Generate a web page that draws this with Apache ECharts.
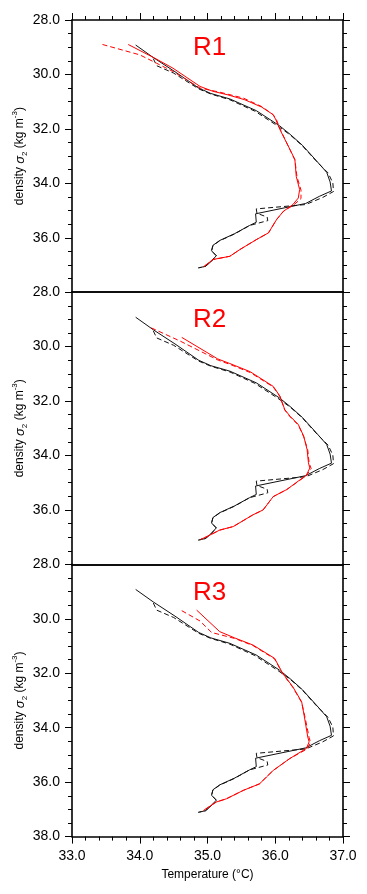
<!DOCTYPE html>
<html>
<head>
<meta charset="utf-8">
<script src="https://cdn.jsdelivr.net/npm/echarts@6/dist/echarts.min.js"></script>
<style>
html,body{margin:0;padding:0;background:#fff;}
#chart{width:367px;height:894px;}
</style>
</head>
<body>
<div id="chart"></div>
<script>
// ---- data: [temperature (°C), density sigma2 (kg m-3)] ----
const panelNames = ['R1', 'R2', 'R3'];
const xTickValues = [33, 34, 35, 36, 37];
const yTickValues = [28, 30, 32, 34, 36, 38];

const blackSolid = [
  [33.94,28.92],[34.20,29.38],[34.52,29.90],[34.87,30.50],[35.05,30.70],[35.33,30.90],
  [35.72,31.33],[36.06,31.88],[36.22,32.20],[36.40,32.60],[36.60,33.15],[36.76,33.60],
  [36.81,33.95],[36.83,34.28],[36.65,34.48],[36.45,34.74],[35.71,35.12],[35.72,35.43],
  [35.62,35.55],[35.40,35.85],[35.18,36.10],[35.08,36.28],[35.06,36.48],[35.13,36.66],
  [35.05,36.88],[34.97,37.05],[34.86,37.11]
];
const blackDashed = [
  [34.20,29.42],[34.25,29.68],[34.50,29.95],[34.87,30.53],[35.05,30.72],[35.33,30.93],
  [35.70,31.35],[36.04,31.90],[36.22,32.22],[36.40,32.62],[36.60,33.17],[36.78,33.62],
  [36.85,33.98],[36.86,34.30],[36.70,34.52],[36.45,34.78],[35.72,34.94],[35.73,35.10],
  [35.88,35.24],[35.89,35.37],[35.62,35.55],[35.40,35.86],[35.18,36.11],[35.08,36.29],
  [35.06,36.48],[35.13,36.66],[35.05,36.88],[34.97,37.05],[34.88,37.10]
];

const redSolidR1 = [
  [33.83,28.90],[34.22,29.40],[34.49,29.77],[34.89,30.44],[35.08,30.62],[35.30,30.75],
  [35.55,30.93],[35.80,31.20],[35.97,31.48],[36.01,31.67],[36.07,32.03],[36.22,32.77],
  [36.29,33.13],[36.31,33.75],[36.36,34.23],[36.34,34.54],[36.26,34.78],[36.12,35.03],
  [36.02,35.33],[35.90,35.82],[35.72,36.07],[35.48,36.43],[35.33,36.68],[35.08,36.80],
  [34.94,37.07]
];
const redDashedR1 = [
  [33.45,28.90],[34.00,29.28],[34.25,29.59],[34.49,29.89],[34.89,30.50],[35.18,30.65],
  [35.53,30.87],[35.80,31.18],[35.97,31.48],[36.02,31.68],[36.08,32.05],[36.22,32.78],
  [36.29,33.14],[36.32,33.75],[36.38,34.25],[36.38,34.56],[36.27,34.80],[36.12,35.03],
  [36.02,35.33],[35.90,35.82],[35.72,36.07],[35.48,36.43],[35.33,36.68],[35.08,36.80],
  [34.94,37.07]
];

const redSolidR2 = [
  [34.62,29.66],[35.15,30.45],[35.33,30.62],[35.63,30.92],[35.97,31.46],[36.07,31.82],
  [36.14,32.31],[36.22,32.56],[36.34,32.86],[36.42,33.29],[36.47,33.78],[36.49,34.27],
  [36.51,34.46],[36.46,34.72],[36.17,35.25],[35.97,35.51],[35.82,36.00],[35.67,36.18],
  [35.38,36.61],[35.18,36.74],[34.99,36.98],[34.90,37.08]
];
const redDashedR2 = [
  [34.17,29.31],[34.60,29.80],[35.16,30.50],[35.33,30.65],[35.63,30.95],[35.97,31.48],
  [36.07,31.84],[36.14,32.33],[36.22,32.58],[36.34,32.88],[36.42,33.31],[36.48,33.80],
  [36.50,34.28],[36.53,34.48],[36.46,34.74],[36.17,35.25],[35.97,35.51],[35.82,36.00],
  [35.67,36.18],[35.38,36.61],[35.18,36.74],[34.99,36.98],[34.90,37.08]
];

const redSolidR3 = [
  [34.84,29.68],[35.18,30.47],[35.40,30.70],[35.67,30.96],[35.99,31.45],[36.11,32.00],
  [36.26,32.50],[36.39,33.05],[36.43,33.60],[36.48,34.34],[36.50,34.52],[36.46,34.76],
  [36.21,35.14],[35.97,35.57],[35.87,35.81],[35.77,36.06],[35.53,36.30],[35.28,36.61],
  [35.13,36.73],[34.94,37.04]
];
const redDashedR3 = [
  [34.62,29.70],[34.89,30.08],[35.06,30.50],[35.40,30.72],[35.67,30.98],[35.99,31.47],
  [36.11,32.02],[36.26,32.52],[36.39,33.07],[36.44,33.62],[36.50,34.36],[36.52,34.54],
  [36.47,34.78],[36.21,35.14],[35.97,35.57],[35.87,35.81],[35.77,36.06],[35.53,36.30],
  [35.28,36.61],[35.13,36.73],[34.94,37.04]
];

const redSolid = [redSolidR1, redSolidR2, redSolidR3];
const redDashed = [redDashedR1, redDashedR2, redDashedR3];

// ---- layout ----
const FONT = '"Liberation Sans", Arial, Helvetica, sans-serif';
const gridLeft = 72, gridWidth = 271, gridH = 272.2;
const gridTops = [20, 20 + gridH, 20 + 2 * gridH];
const DASH = [5, 3];
const axisLineStyle = { color: '#000', width: 1.6 };
const tickStyle = { color: '#000', width: 1 };

const grids = [], xAxes = [], yAxes = [], series = [], graphics = [];

panelNames.forEach((name, i) => {
  grids.push({ left: gridLeft, width: gridWidth, top: gridTops[i], height: gridH, outerBoundsMode: 'none', containLabel: false });
  const isBottom = i === panelNames.length - 1;
  const isTop = i === 0;
  // bottom x axis
  xAxes.push({
    type: 'value', gridIndex: i, position: 'bottom',
    min: xTickValues[0], max: xTickValues[xTickValues.length - 1], interval: 1,
    axisLine: { show: true, onZero: false, lineStyle: axisLineStyle },
    axisTick: { show: isBottom, inside: false, length: 7, lineStyle: tickStyle },
    minorTick: { show: isBottom, splitNumber: 5, length: 4, lineStyle: tickStyle },
    axisLabel: { show: isBottom, margin: 13, fontSize: 14, color: '#000', fontFamily: FONT,
                 formatter: v => v.toFixed(1) },
    splitLine: { show: false }, minorSplitLine: { show: false },
    name: isBottom ? 'Temperature (°C)' : '', nameLocation: 'middle', nameGap: 32,
    nameMoveOverlap: false,
    nameTextStyle: { fontSize: 12, color: '#000', fontFamily: FONT }
  });
  // top x axis
  xAxes.push({
    type: 'value', gridIndex: i, position: 'top',
    min: xTickValues[0], max: xTickValues[xTickValues.length - 1], interval: 1,
    axisLine: { show: true, onZero: false, lineStyle: axisLineStyle },
    axisTick: { show: isTop, inside: false, length: 7, lineStyle: tickStyle },
    minorTick: { show: isTop, splitNumber: 5, length: 4, lineStyle: tickStyle },
    axisLabel: { show: false },
    splitLine: { show: false }
  });
  // left y axis
  yAxes.push({
    type: 'value', gridIndex: i, position: 'left', inverse: true,
    min: yTickValues[0], max: yTickValues[yTickValues.length - 1], interval: 2,
    axisLine: { show: true, onZero: false, lineStyle: axisLineStyle },
    axisTick: { show: true, inside: false, length: 7, lineStyle: tickStyle },
    minorTick: { show: true, splitNumber: 4, length: 4, lineStyle: tickStyle },
    axisLabel: { show: true, margin: 12, fontSize: 14, color: '#000', fontFamily: FONT,
                 showMaxLabel: isBottom, showMinLabel: true, hideOverlap: false,
                 formatter: v => v.toFixed(1) },
    splitLine: { show: false },
    name: 'density {s|σ}{sb|2} (kg m{sp|-3})', nameLocation: 'middle', nameRotate: 90, nameGap: 43,
    nameMoveOverlap: false,
    nameTextStyle: {
      fontSize: 12, color: '#000', fontFamily: FONT, lineHeight: 18,
      rich: {
        s: { fontSize: 13, fontStyle: 'italic', color: '#000', fontFamily: FONT, lineHeight: 18 },
        sb: { fontSize: 8, color: '#000', fontFamily: FONT, lineHeight: 9, verticalAlign: 'bottom' },
        sp: { fontSize: 8, color: '#000', fontFamily: FONT, lineHeight: 9, verticalAlign: 'top' }
      }
    }
  });
  // right y axis
  yAxes.push({
    type: 'value', gridIndex: i, position: 'right', inverse: true,
    min: yTickValues[0], max: yTickValues[yTickValues.length - 1], interval: 2,
    axisLine: { show: true, onZero: false, lineStyle: axisLineStyle },
    axisTick: { show: true, inside: false, length: 7, lineStyle: tickStyle },
    minorTick: { show: true, splitNumber: 4, length: 4, lineStyle: tickStyle },
    axisLabel: { show: false },
    splitLine: { show: false }
  });

  const common = { type: 'line', xAxisIndex: 2 * i, yAxisIndex: 2 * i, showSymbol: false, symbol: 'none',
                   smooth: false, silent: true, animation: false, clip: false, z: 3 };
  series.push(Object.assign({}, common, { name: 'black dashed', data: blackDashed,
    lineStyle: { color: '#111', width: 1, type: DASH } }));
  series.push(Object.assign({}, common, { name: 'black solid', data: blackSolid,
    lineStyle: { color: '#111', width: 1, type: 'solid' } }));
  series.push(Object.assign({}, common, { name: 'red dashed', data: redDashed[i],
    lineStyle: { color: '#ff0000', width: 1, type: DASH } }));
  series.push(Object.assign({}, common, { name: 'red solid', data: redSolid[i],
    lineStyle: { color: '#ff0000', width: 1, type: 'solid' } }));

  graphics.push({
    type: 'text', left: 193, top: gridTops[i] + 15, z: 10,
    style: { text: name, fill: '#ff0000', fontSize: 26, fontFamily: FONT }
  });
});

const chart = echarts.init(document.getElementById('chart'), null, { renderer: 'canvas' });
chart.setOption({
  backgroundColor: '#fff',
  animation: false,
  grid: grids,
  xAxis: xAxes,
  yAxis: yAxes,
  series: series,
  graphic: graphics
});
</script>
</body>
</html>
